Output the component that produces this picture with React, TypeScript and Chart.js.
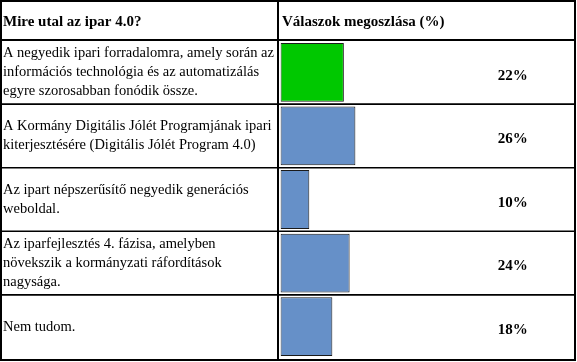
import React, { useEffect, useRef } from "react";
import { Chart, registerables } from "chart.js";

Chart.register(...registerables);

const questionHeader = "Mire utal az ipar 4.0?";
const answerHeader = "Válaszok megoszlása (%)";

const categories: string[][] = [
  ["A negyedik ipari forradalomra, amely során az", "információs technológia és az automatizálás", "egyre szorosabban fonódik össze."],
  ["A Kormány Digitális Jólét Programjának ipari", "kiterjesztésére (Digitális Jólét Program 4.0)"],
  ["Az ipart népszerűsítő negyedik generációs", "weboldal."],
  ["Az iparfejlesztés 4. fázisa, amelyben", "növekszik a kormányzati ráfordítások", "nagysága."],
  ["Nem tudom."],
];

const shares: number[] = [22, 26, 10, 24, 18];

const GREEN = "#00c800";
const BLUE = "#6690c8";
const SERIF = "'Liberation Serif', 'Times New Roman', serif";

const tablePlugin = {
  id: "tablePlugin",
  afterDraw(chart: any) {
    const ctx = chart.ctx as CanvasRenderingContext2D;
    const area = chart.chartArea;
    const yScale = chart.scales.y;
    const W = chart.width;
    const right = W - 2;
    const bottom = area.bottom + 0.5;
    ctx.save();
    ctx.strokeStyle = "#000";

    // row separators
    ctx.lineWidth = 1.6;
    for (let i = 0; i < categories.length - 1; i++) {
      const yb = (yScale.getPixelForValue(i) + yScale.getPixelForValue(i + 1)) / 2;
      ctx.beginPath();
      ctx.moveTo(0, yb);
      ctx.lineTo(right, yb);
      ctx.stroke();
    }

    // header line
    ctx.lineWidth = 2;
    ctx.beginPath();
    ctx.moveTo(0, area.top - 0.5);
    ctx.lineTo(right, area.top - 0.5);
    ctx.stroke();

    // column divider
    ctx.beginPath();
    ctx.moveTo(area.left - 2.5, 0);
    ctx.lineTo(area.left - 2.5, bottom);
    ctx.stroke();

    // outer border
    ctx.lineWidth = 2;
    ctx.strokeRect(1, 1, right - 1, bottom);

    // headers
    ctx.fillStyle = "#000";
    ctx.font = `bold 15px ${SERIF}`;
    ctx.textBaseline = "middle";
    ctx.textAlign = "left";
    ctx.fillText(questionHeader, 3, 22.5);
    ctx.fillText(answerHeader, area.left + 1.5, 22.5);

    // percentage labels
    const meta = chart.getDatasetMeta(0);
    ctx.font = `bold 15px ${SERIF}`;
    ctx.textAlign = "center";
    const cx = area.left + 0.806 * (area.right - area.left);
    meta.data.forEach((bar: any, i: number) => {
      ctx.fillText(`${shares[i]}%`, cx, bar.y + 3.5);
    });
    ctx.restore();
  },
};

export default function App() {
  const canvasRef = useRef<HTMLCanvasElement | null>(null);

  useEffect(() => {
    if (!canvasRef.current) return;
    const chart = new Chart(canvasRef.current, {
      type: "bar",
      data: {
        labels: categories as any,
        datasets: [
          {
            data: shares,
            backgroundColor: shares.map((_, i) => (i === 0 ? GREEN : BLUE)),
            borderColor: "#1a1a1a",
            borderWidth: 1,
            borderSkipped: false,
            categoryPercentage: 1,
            barPercentage: 0.925,
          },
        ],
      },
      options: {
        indexAxis: "y",
        animation: false,
        responsive: false,
        maintainAspectRatio: false,
        layout: { padding: { left: 3, top: 40.5, right: 8.5, bottom: 3.5 } },
        plugins: {
          legend: { display: false },
          tooltip: { enabled: false },
          title: { display: false },
        },
        scales: {
          x: { display: false, min: 0, max: 100 },
          y: {
            position: "left",
            grid: { display: false },
            border: { display: false },
            ticks: {
              autoSkip: false,
              crossAlign: "far",
              padding: 0,
              color: "#000",
              font: { family: SERIF, size: 14.5, lineHeight: 1.31 },
            },
            afterFit: (scale: any) => {
              scale.width = 277.5;
              scale.paddingTop = 0;
              scale.paddingBottom = 0;
            },
          },
        },
      },
      plugins: [tablePlugin],
    });
    return () => chart.destroy();
  }, []);

  return (
    <div style={{ position: "absolute", left: 0, top: 0, width: 577, height: 362, background: "#fff" }}>
      <canvas ref={canvasRef} width={577} height={362} style={{ display: "block" }} />
    </div>
  );
}
